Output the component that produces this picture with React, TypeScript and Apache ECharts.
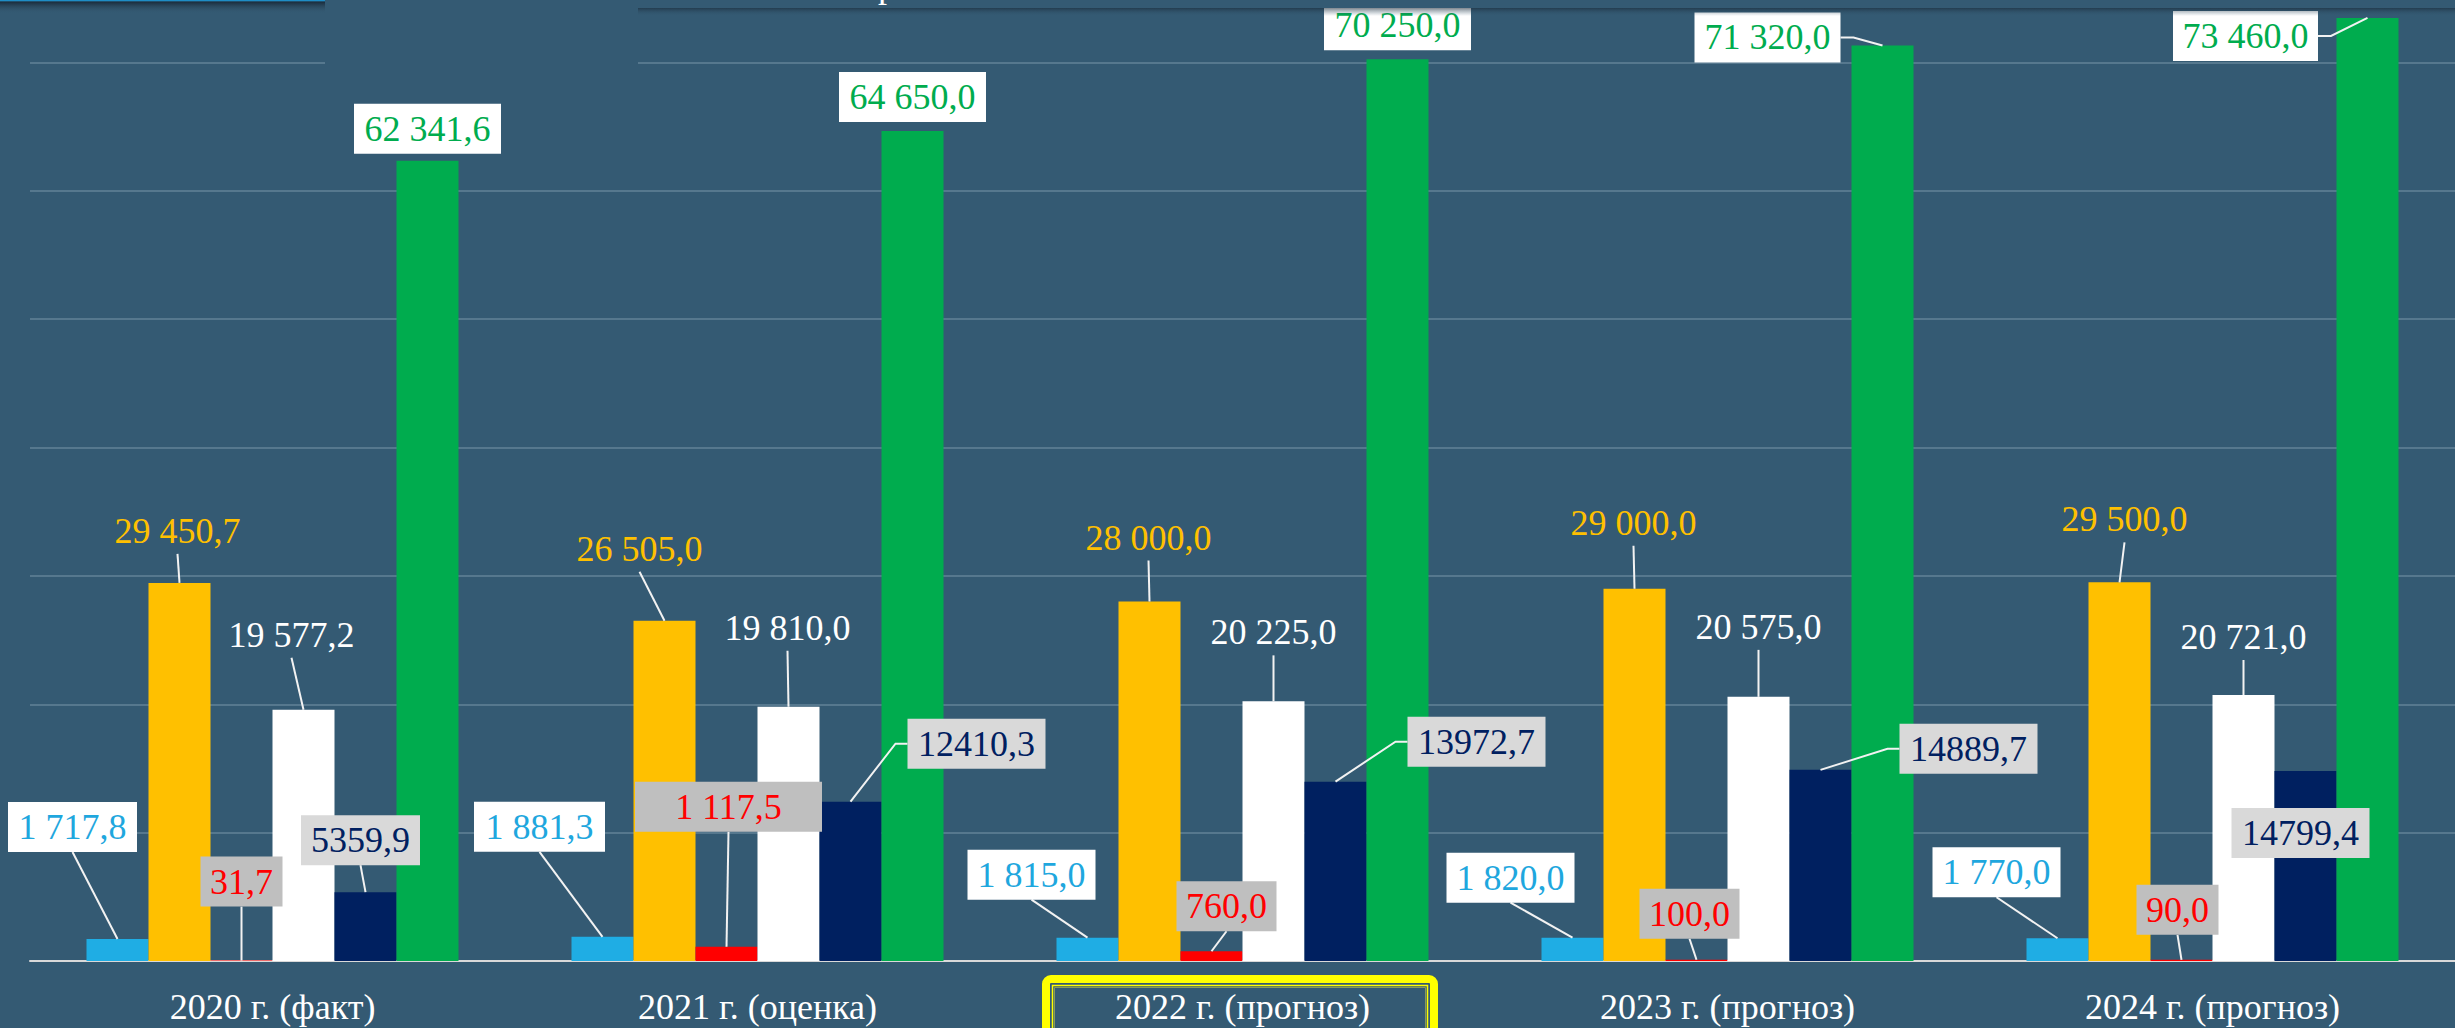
import React, { useEffect, useRef } from "react";
import * as echarts from "echarts";

// ---------- data ----------
const categories = [
  "2020 г. (факт)",
  "2021 г. (оценка)",
  "2022 г. (прогноз)",
  "2023 г. (прогноз)",
  "2024 г. (прогноз)",
];
const cyanValues = [1717.8, 1881.3, 1815.0, 1820.0, 1770.0];
const yellowValues = [29450.7, 26505.0, 28000.0, 29000.0, 29500.0];
const redValues = [31.7, 1117.5, 760.0, 100.0, 90.0];
const whiteValues = [19577.2, 19810.0, 20225.0, 20575.0, 20721.0];
const navyValues = [5359.9, 12410.3, 13972.7, 14889.7, 14799.4];
const greenValues = [62341.6, 64650.0, 70250.0, 71320.0, 73460.0];
const yMax = 80000;
const yInterval = 10000;

const seriesValues = [cyanValues, yellowValues, redValues, whiteValues, navyValues, greenValues];

// ---------- styles ----------
const BG = "#345A73";
const FONT = "Liberation Serif";
const GAP = 0.233;
const OFF = 66; // chart canvas starts this many px above the page top
const seriesStyles = [
  { color: "#1FADE4", text: "#1FA7DE", box: "#FFFFFF", grouped: true },
  { color: "#FFC000", text: "#FFC000", box: null, grouped: true },
  { color: "#FF0000", text: "#FF0000", box: "#BFBFBF", grouped: true },
  { color: "#FFFFFF", text: "#FFFFFF", box: null, grouped: true },
  { color: "#002060", text: "#002060", box: "#D9D9D9", grouped: false },
  { color: "#00AC4E", text: "#00AC4E", box: "#FFFFFF", grouped: true },
];

// label callout placement: [dx, dy, boxWidth, attach] relative to bar top centre
const cyanLabelPos = [[-45, -112, 129, "b"], [-63, -110, 131, "b"], [-56, -63, 128, "b"], [-62, -60, 128, "b"], [-61, -66, 128, "b"]];
const yellowLabelPos = [[-2, -52, 0, "b"], [-25, -72, 0, "b"], [-1, -64, 0, "b"], [-1, -66, 0, "b"], [5, -63, 0, "b"]];
const redLabelPos = [[0, -79, 82, "b"], [2, -140, 187, "b"], [15, -45, 100, "b"], [-7, -46, 100, "b"], [-4, -50, 82, "b"]];
const whiteLabelPos = [[-12, -75, 0, "b"], [-1, -79, 0, "b"], [0, -69, 0, "b"], [0, -70, 0, "b"], [0, -58, 0, "b"]];
const navyLabelPos = [[-5, -52, 119, "b"], [126, -58, 138, "l"], [141, -40, 138, "l"], [148, -21, 138, "l"], [-5, 62, 138, "n"]];
const greenLabelPos = [[0, -32, 147, "n"], [0, -34, 147, "n"], [0, -34, 147, "n"], [-115, -8, 146, "r"], [-122, 18, 145, "r"]];
const labelPos = [cyanLabelPos, yellowLabelPos, redLabelPos, whiteLabelPos, navyLabelPos, greenLabelPos];

function fmt(v: number, grouped: boolean) {
  const [i, d] = v.toFixed(1).split(".");
  const ip = grouped ? i.replace(/\B(?=(\d{3})+(?!\d))/g, " ") : i;
  return ip + "," + d;
}

const labelData: number[][] = [];
seriesValues.forEach((vals, s) => vals.forEach((v, i) => labelData.push([i, v, s])));

function renderLabel(params: any, api: any) {
  const ci = api.value(0);
  const v = api.value(1);
  const s = api.value(2);
  const pt = api.coord([ci, v]);
  const band = api.size([1, 0])[0];
  const barW = (band * (1 - GAP)) / 6;
  const bx = pt[0] + (s - 2.5) * barW;
  const by = pt[1];
  const [dx, dy, w, attach] = labelPos[s][ci] as [number, number, number, string];
  const st = seriesStyles[s];
  const lx = bx + dx;
  const ly = by + dy;
  const H = 50;
  const children: any[] = [];
  let pts: number[][] | null = null;
  if (attach === "b") pts = [[bx, by], [lx, ly + (st.box ? H / 2 : 23)]];
  else if (attach === "l") pts = [[bx, by], [lx - w / 2 - 12, ly], [lx - w / 2, ly]];
  else if (attach === "r") pts = [[bx, by], [lx + w / 2 + 13, ly], [lx + w / 2, ly]];
  if (pts)
    children.push({
      type: "polyline",
      shape: { points: pts },
      style: { stroke: "#F2F2F2", lineWidth: 2, fill: null },
    });
  if (st.box)
    children.push({
      type: "rect",
      shape: { x: lx - w / 2, y: ly - H / 2, width: w, height: H },
      style: { fill: st.box },
    });
  children.push({
    type: "text",
    x: lx,
    y: ly,
    style: {
      text: fmt(v, st.grouped),
      fill: st.text,
      fontSize: 36,
      fontFamily: FONT,
      align: "center",
      verticalAlign: "middle",
    },
  });
  return { type: "group", children };
}

const shadow = (a: number) =>
  new echarts.graphic.LinearGradient(0, 0, 0, 1, [
    { offset: 0, color: `rgba(22,36,50,${a})` },
    { offset: 1, color: "rgba(52,90,115,0)" },
  ]);

export default function App() {
  const ref = useRef<HTMLDivElement>(null);
  useEffect(() => {
    document.body.style.margin = "0";
    document.body.style.background = BG;
    document.body.style.overflow = "hidden";
    const chart = echarts.init(ref.current!, null, { renderer: "svg" });
    const barSeries = seriesValues.map((vals, s) => ({
      type: "bar",
      data: vals,
      barGap: "0%",
      barCategoryGap: `${GAP * 100}%`,
      itemStyle: { color: seriesStyles[s].color },
      z: 2,
      silent: true,
    }));
    chart.setOption({
      animation: false,
      backgroundColor: BG,
      grid: { left: 30, right: 0, top: 0, bottom: 67, containLabel: false },
      xAxis: {
        type: "category",
        data: categories,
        axisTick: { show: false },
        axisLine: { show: true, lineStyle: { color: "#D9D9D9", width: 2 } },
        axisLabel: {
          color: "#FFFFFF",
          fontSize: 36,
          fontFamily: FONT,
          margin: 28,
          interval: 0,
        },
      },
      yAxis: {
        type: "value",
        min: 0,
        max: yMax,
        interval: yInterval,
        axisLabel: { show: false },
        axisLine: { show: false },
        axisTick: { show: false },
        splitLine: { show: true, lineStyle: { color: "#56788E", width: 2 } },
      },
      series: [
        ...barSeries,
        {
          type: "custom",
          data: labelData,
          encode: { x: 0, y: 1 },
          renderItem: renderLabel,
          z: 5,
          silent: true,
        },
      ],
      graphic: {
        elements: [
          // cover behind top-left title area (hides grid line)
          { type: "rect", z: 1, shape: { x: 325, y: OFF, width: 313, height: 95 }, style: { fill: BG } },
          // area above the visible page
          { type: "rect", z: 30, shape: { x: 0, y: 0, width: 2455, height: OFF }, style: { fill: BG } },
          // top-left bar with blue line and shadow
          { type: "rect", z: 20, shape: { x: 0, y: OFF, width: 325, height: 1.5 }, style: { fill: "#1E8DC6" } },
          { type: "rect", z: 20, shape: { x: 0, y: OFF + 1.5, width: 325, height: 12 }, style: { fill: shadow(0.9) } },
          // top-right strip and shadow
          { type: "rect", z: 20, shape: { x: 638, y: OFF, width: 1817, height: 8 }, style: { fill: BG } },
          { type: "rect", z: 20, shape: { x: 638, y: OFF + 8, width: 1817, height: 8 }, style: { fill: shadow(0.55) } },
          {
            type: "text",
            z: 21,
            x: 887,
            y: OFF + 3,
            style: { text: "р", fill: "#FFFFFF", fontSize: 36, fontFamily: FONT, align: "center", verticalAlign: "bottom" },
          },
          // highlight frame around 2022 label
          {
            type: "rect",
            z: 20,
            shape: { x: 1046, y: OFF + 979, width: 388, height: 100, r: 5 },
            style: { fill: null, stroke: "#FFFF00", lineWidth: 8 },
          },
          {
            type: "rect",
            z: 20,
            shape: { x: 1052.5, y: OFF + 985.5, width: 375, height: 100 },
            style: { fill: null, stroke: "#FFFF00", lineWidth: 1.5 },
          },
          {
            type: "rect",
            z: 20,
            shape: { x: 1054.5, y: OFF + 987.5, width: 371, height: 100 },
            style: { fill: null, stroke: "#8A9A5A", lineWidth: 1 },
          },
        ],
      },
    });
    return () => chart.dispose();
  }, []);
  return (
    <div
      ref={ref}
      style={{ position: "fixed", left: 0, top: -OFF, width: 2455, height: 1028 + OFF }}
    />
  );
}
